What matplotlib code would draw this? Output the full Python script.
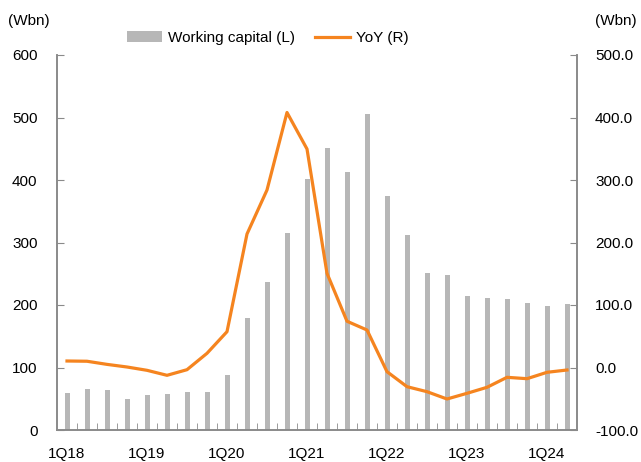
import matplotlib
matplotlib.use("Agg")
import matplotlib.pyplot as plt
from matplotlib import font_manager

# narrow font looks closest to the original, fall back if missing
names = {f.name for f in font_manager.fontManager.ttflist}
fam = "Liberation Sans Narrow" if "Liberation Sans Narrow" in names else "Liberation Sans"
plt.rcParams["font.family"] = [fam, "DejaVu Sans"]

quarters = ["1Q18", "2Q18", "3Q18", "4Q18",
            "1Q19", "2Q19", "3Q19", "4Q19",
            "1Q20", "2Q20", "3Q20", "4Q20",
            "1Q21", "2Q21", "3Q21", "4Q21",
            "1Q22", "2Q22", "3Q22", "4Q22",
            "1Q23", "2Q23", "3Q23", "4Q23",
            "1Q24", "2Q24"]
working_capital = [59, 65, 64, 50, 56, 57, 61, 61, 88, 180, 237, 316,
                   402, 452, 413, 506, 374, 312, 251, 248, 215, 212,
                   210, 203, 198, 202]
yoy = [10.4, 10.0, 5.0, 0.8, -4.5, -12.5, -3.5, 22.7, 57.3, 213.6, 284.0, 408.0,
       349.6, 150.7, 74.0, 60.0, -6.7, -30.7, -38.7, -50.4, -41.3, -31.7,
       -15.7, -17.9, -7.7, -4.0]
tick_labels = ["1Q18", "1Q19", "1Q20", "1Q21", "1Q22", "1Q23", "1Q24"]

BAR = "#b7b7b7"
LINE = "#f5841f"
SPINE = "#8a8a8a"
FS = 11

fig = plt.figure(figsize=(6.41, 4.62), dpi=100)
ax = fig.add_axes([57/641, 1 - 430/462, 520/641, 375/462])
ax2 = ax.twinx()

x = list(range(len(quarters)))
ax.bar(x, working_capital, width=0.25, color=BAR, label="Working capital (L)", zorder=1)
ax2.plot(x, yoy, color=LINE, lw=2.3, label="YoY (R)", zorder=3)

ax.set_xlim(-0.5, len(quarters) - 0.5)
ax.set_ylim(0, 600)
ax2.set_ylim(-100, 500)
ax.set_yticks(range(0, 601, 100))
ax2.set_yticks(range(-100, 501, 100))
ax2.set_yticklabels([f"{v:.1f}" for v in range(-100, 501, 100)])

# labels on the first quarter of each year, minor ticks on slot edges
ax.set_xticks([quarters.index(q) for q in tick_labels])
ax.set_xticklabels(tick_labels)
ax.set_xticks([i + 0.5 for i in range(len(quarters) - 1)], minor=True)
ax.tick_params(axis="x", which="major", length=0, pad=12, labelsize=FS)
ax.tick_params(axis="x", which="minor", direction="in", length=5, color=SPINE)
ax.tick_params(axis="y", direction="in", length=5, color=SPINE, pad=14, labelsize=FS)
ax2.tick_params(axis="y", direction="in", length=5, color=SPINE, pad=13, labelsize=FS)

for a in (ax, ax2):
    a.spines["top"].set_visible(False)
    for s in ("left", "right", "bottom"):
        a.spines[s].set_color(SPINE)
        a.spines[s].set_linewidth(1.2)

fig.text(8/641, 1 - 21/462, "(Wbn)", fontsize=FS, va="center", ha="left")
fig.text(637/641, 1 - 21/462, "(Wbn)", fontsize=FS, va="center", ha="right")

h1, l1 = ax.get_legend_handles_labels()
h2, l2 = ax2.get_legend_handles_labels()
fig.legend(h1 + h2, l1 + l2, loc="center", bbox_to_anchor=(268/641, 1 - 38/462),
           ncol=2, frameon=False, fontsize=FS, handlelength=2.3, columnspacing=1.3,
           handletextpad=0.4)

fig.savefig("out.png", dpi=100)
